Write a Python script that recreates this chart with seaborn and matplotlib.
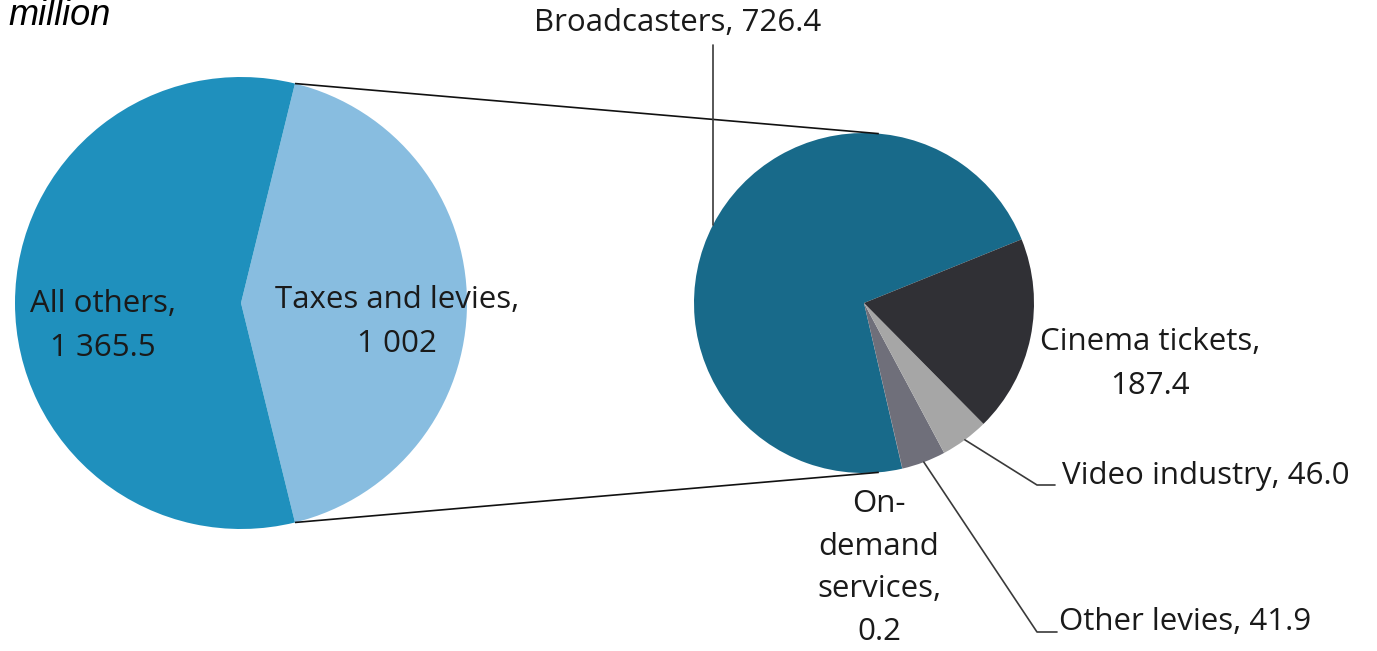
import numpy as np
import matplotlib
matplotlib.use("Agg")
import matplotlib.pyplot as plt
import seaborn as sns

# ---- data ----
left_labels = ["Taxes and levies", "All others"]
left_values = [1002.0, 1365.5]
left_texts = ["Taxes and levies,\n1 002", "All others,\n1 365.5"]

right_labels = ["Broadcasters", "On-demand services", "Other levies", "Video industry", "Cinema tickets"]
right_values = [726.4, 0.2, 41.9, 46.0, 187.4]
right_texts = ["Broadcasters, 726.4", "On-\ndemand\nservices,\n0.2", "Other levies, 41.9",
               "Video industry, 46.0", "Cinema tickets,\n187.4"]
unit_label = "million"

left_colors = ["#88BDE0", "#1F90BD"]
right_colors = ["#186A8A", "#5F6270", "#6F6F7A", "#A6A6A6", "#303035"]

sns.set_theme(style="white")
plt.rcParams['font.family'] = ['Open Sans', 'DejaVu Sans']

W, H = 1377, 651
fig = plt.figure(figsize=(W / 100, H / 100), dpi=100)
ax = fig.add_axes([0, 0, 1, 1])

def Y(py):
    return H - py

# left pie
lc = (241, Y(303)); lr = 226
tax_frac = left_values[0] / sum(left_values)
lstart = -360 * tax_frac / 2
ax.pie(left_values, colors=left_colors, startangle=lstart, center=lc, radius=lr,
       wedgeprops=dict(linewidth=0), frame=True)

# right pie
rc = (864, Y(303)); rr = 170
rstart = 22
wedges, _ = ax.pie(right_values, colors=right_colors, startangle=rstart, center=rc, radius=rr,
                   wedgeprops=dict(linewidth=0), frame=True)
ax.set_xlim(0, W)
ax.set_ylim(0, H)
ax.set_aspect("equal")
ax.axis("off")

# connector lines
a = np.deg2rad(-lstart)
for s in (1, -1):
    x0 = lc[0] + lr * np.cos(a)
    y0 = lc[1] + s * lr * np.sin(a)
    b = np.deg2rad(85)
    x1 = rc[0] + rr * np.cos(b)
    y1 = rc[1] + s * rr * np.sin(b)
    ax.plot([x0, x1], [y0, y1], color="#111111", lw=1.2, solid_capstyle="butt")

txt_color = "#1a1a1a"
fs = 22.5
ls = 1.62

# left labels
ax.text(397, Y(322), left_texts[0], ha="center", va="center", fontsize=fs, color=txt_color,
        linespacing=ls, multialignment="center")
ax.text(103, Y(326), left_texts[1], ha="center", va="center", fontsize=fs, color=txt_color,
        linespacing=ls, multialignment="center")

# right labels with leaders
def mid_point(w):
    m = np.deg2rad((w.theta1 + w.theta2) / 2)
    return rc[0] + rr * np.cos(m), rc[1] + rr * np.sin(m)

lc_col = "#3a3a3a"
# Broadcasters
x0, y0 = mid_point(wedges[0])
ax.plot([x0, x0], [y0, Y(45)], color=lc_col, lw=1.2)
ax.text(678, Y(23), right_texts[0], ha="center", va="center", fontsize=fs, color=txt_color)
# On-demand
ax.text(879, Y(568), right_texts[1], ha="center", va="center", fontsize=fs, color=txt_color,
        linespacing=1.55, multialignment="center")
# Other levies
x0, y0 = mid_point(wedges[2])
ax.plot([x0, 1037, 1057], [y0, Y(632), Y(632)], color=lc_col, lw=1.2)
ax.text(1059, Y(622), right_texts[2], ha="left", va="center", fontsize=fs, color=txt_color)
# Video industry
x0, y0 = mid_point(wedges[3])
ax.plot([x0, 1037, 1055], [y0, Y(485), Y(485)], color=lc_col, lw=1.2)
ax.text(1062, Y(476), right_texts[3], ha="left", va="center", fontsize=fs, color=txt_color)
# Cinema
ax.text(1150, Y(364), right_texts[4], ha="center", va="center", fontsize=fs, color=txt_color,
        linespacing=ls, multialignment="center")

# unit label
ax.text(8, Y(25), unit_label, ha="left", va="baseline", fontsize=26, style="italic",
        family=["Liberation Sans", "DejaVu Sans"], color="#000000")

fig.savefig("out.png", dpi=100)
